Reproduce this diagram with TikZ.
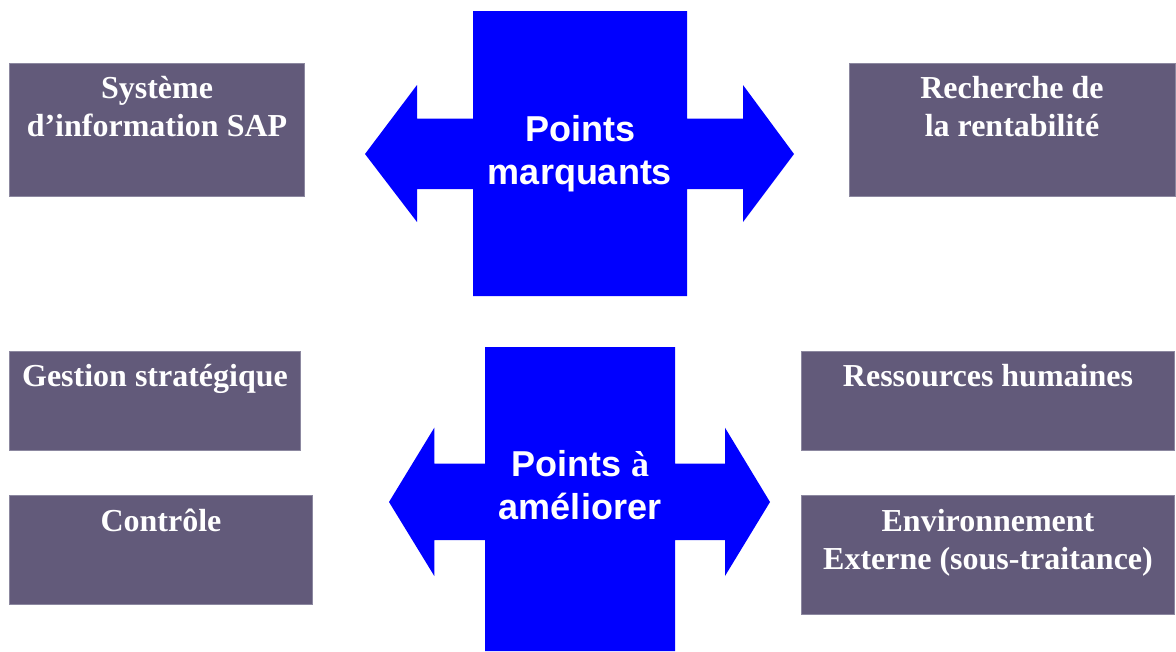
\documentclass[tikz,border=0pt]{standalone}
\usepackage{fontspec}
\setmainfont{Liberation Serif}
\newfontfamily\arialfont{Liberation Sans}
\newfontfamily\timesfont{Liberation Serif}
\usetikzlibrary{calc}

\definecolor{boxfill}{RGB}{98,90,122}
\definecolor{boxline}{RGB}{140,136,160}
\definecolor{pureblue}{RGB}{0,0,255}

\newcommand{\boxlines}[1]{\begin{tabular}[t]{@{}c@{}}#1\end{tabular}}

\tikzset{
  theme/.style={fill=boxfill, draw=boxline, line width=0.8pt},
  themetext/.style={anchor=base, inner sep=0pt, text=white,
    font=\bfseries\fontsize{32}{38}\selectfont},
  crosstext/.style={anchor=base, inner sep=0pt, text=white,
    font=\arialfont\bfseries\fontsize{36}{43}\selectfont},
  crossarrow/.style={fill=pureblue, draw=none}
}

\begin{document}
\begin{tikzpicture}[x=1pt, y=-1pt]
  \useasboundingbox (0,0) rectangle (1176,651);

  % upper double arrow crossing a vertical block
  \fill[crossarrow]
    (473,11) -- (687,11) -- (687,118.7) -- (743,118.7) -- (743,85)
    -- (794,154) -- (743,222) -- (743,189) -- (687,189) -- (687,296)
    -- (473,296) -- (473,189) -- (417,189) -- (417,222) -- (365,154)
    -- (417,85) -- (417,118.7) -- (473,118.7) -- cycle;
  \node[crosstext] (strong) at (580,141)
    {\boxlines{Points\\marquants}};

  % lower double arrow crossing a vertical block
  \fill[crossarrow]
    (485,347) -- (675,347) -- (675,463.7) -- (725,463.7) -- (725,427.7)
    -- (770,502) -- (725,576) -- (725,540) -- (675,540) -- (675,651)
    -- (485,651) -- (485,540) -- (434.3,540) -- (434.3,576) -- (389,502)
    -- (434.3,427.7) -- (434.3,463.7) -- (485,463.7) -- cycle;
  \node[crosstext] (weak) at (580,476)
    {\boxlines{Points {\timesfont\bfseries à}\\améliorer}};

  % theme boxes
  \draw[theme] (9,63) rectangle (304,196);
  \node[themetext] (sap) at (157,98.3)
    {\boxlines{Système\\d’information SAP}};

  \draw[theme] (849,63) rectangle (1175,196);
  \node[themetext] (profit) at (1012,98)
    {\boxlines{Recherche de\\la rentabilité}};

  \draw[theme] (9,351) rectangle (300,450);
  \node[themetext] (strategy) at (155,386.5)
    {\boxlines{Gestion stratégique}};

  \draw[theme] (9,495) rectangle (312,604);
  \node[themetext] (control) at (161,531.5)
    {\boxlines{Contrôle}};

  \draw[theme] (801.5,351.5) rectangle (1174,450);
  \node[themetext] (hr) at (988,386.5)
    {\boxlines{Ressources humaines}};

  \draw[theme] (801.5,495) rectangle (1174,614);
  \node[themetext] (env) at (988,531)
    {\boxlines{Environnement\\Externe (sous-traitance)}};
\end{tikzpicture}
\end{document}
